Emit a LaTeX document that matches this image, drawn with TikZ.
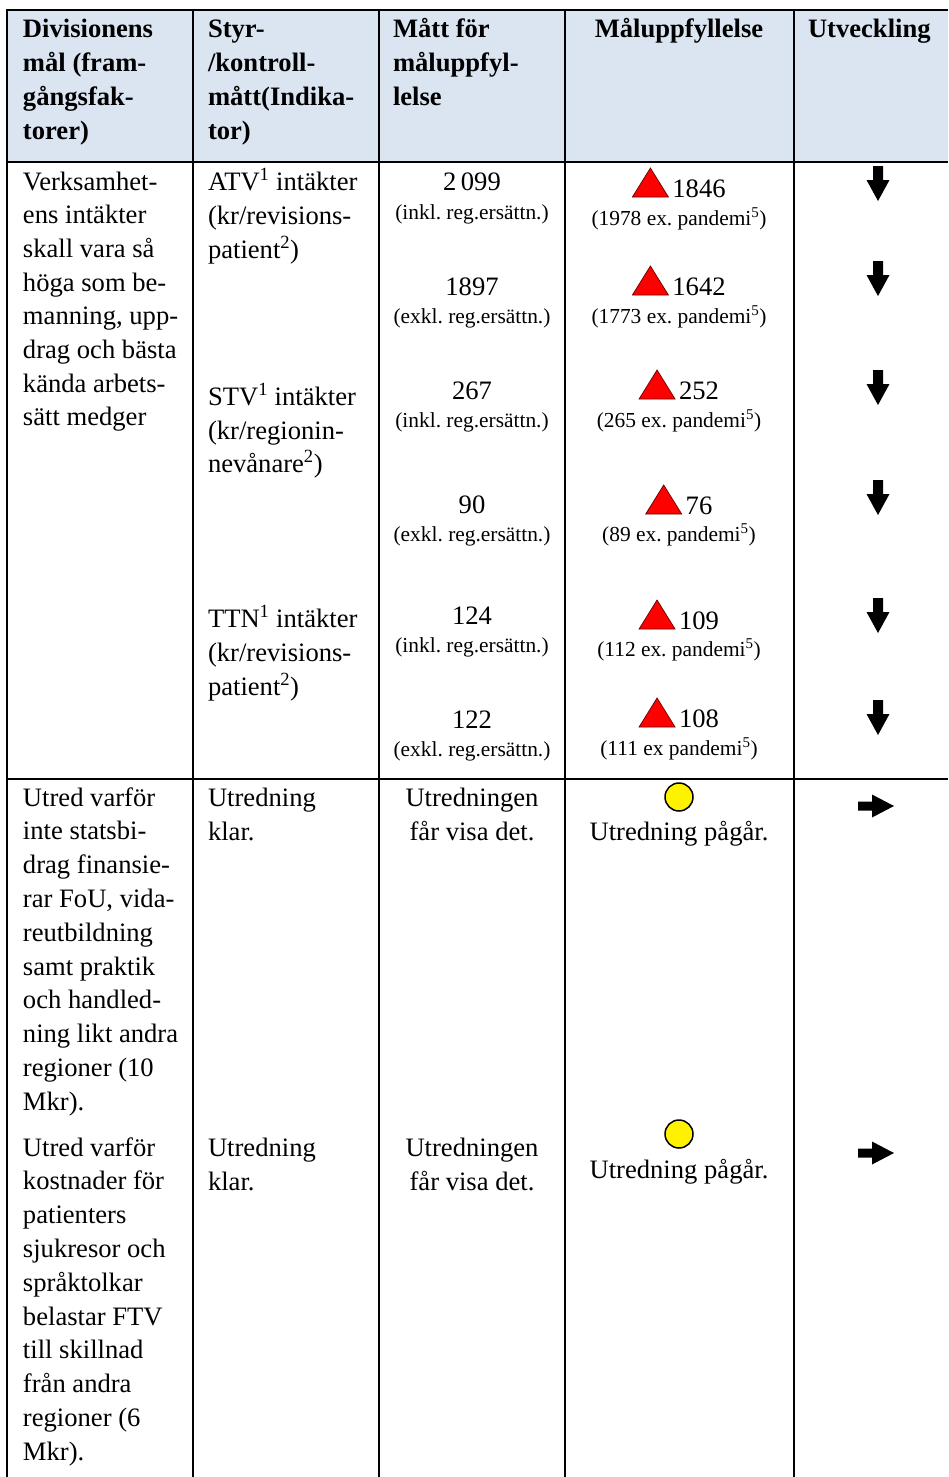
\documentclass[tikz,border=0pt]{standalone}
\usepackage{fontspec}
\setmainfont{Liberation Serif}
\usetikzlibrary{calc}
\definecolor{hdrfill}{HTML}{DBE5F1}
\newcommand\mydarr[2]{\fill (#1-5,#2) -- (#1+5,#2) -- (#1+5,#2-14) -- (#1+11.5,#2-14) -- (#1,#2-35) -- (#1-11.5,#2-14) -- (#1-5,#2-14) -- cycle;}
\newcommand\myrarr[2]{\fill (#1,#2+4.5) -- (#1+14,#2+4.5) -- (#1+14,#2+11.5) -- (#1+36,#2) -- (#1+14,#2-11.5) -- (#1+14,#2-4.5) -- (#1,#2-4.5) -- cycle;}
\newcommand\mytri[1]{\filldraw[trimark] (#1.base west) -- ++(36,0) -- ++(-18,29) -- cycle;}
\frenchspacing
\begin{document}
\begin{tikzpicture}[x=1pt,y=1pt,
  txt/.style={inner sep=0pt, outer sep=0pt, anchor=base west, font=\fontsize{26.6}{34}\selectfont},
  ctxt/.style={txt, anchor=base},
  hd/.style={txt, font=\fontsize{26.6}{34}\selectfont\bfseries},
  chd/.style={hd, anchor=base},
  sm/.style={inner sep=0pt, outer sep=0pt, anchor=base, font=\fontsize{21.4}{26}\selectfont},
  grid/.style={line width=1.8pt, black},
  trimark/.style={fill=red, draw=red!40!black, line width=0.7pt, line join=miter},
  dot/.style={circle, fill=yellow, draw=black, line width=1.5pt, minimum size=28pt, inner sep=0pt}
]
\useasboundingbox (0,0) rectangle (948,-1477);
% header background and grid
\fill[hdrfill] (7,-10) rectangle (948,-162);
\draw[grid] (6,-10) -- (948,-10);
\draw[grid] (7,-162) -- (948,-162);
\draw[grid] (7,-779) -- (948,-779);
\foreach \x in {7,193,379,565,794} \draw[grid] (\x,-10) -- (\x,-1477);

% header texts
\foreach \t [count=\i from 0] in {Divisionens, mål (fram-, gångsfak-, torer)}
  \node[hd] (ha\i) at (23,{-38-33.7*\i}) {\t};
\foreach \t [count=\i from 0] in {Styr-, /kontroll-, mått(Indika-, tor)}
  \node[hd] (hb\i) at (208,{-38-33.7*\i}) {\t};
\foreach \t [count=\i from 0] in {Mått för, måluppfyl-, lelse}
  \node[hd] (hc\i) at (393,{-38-33.7*\i}) {\t};
\node[chd] (hd0) at (679,-38) {Måluppfyllelse};
\node[hd] (he0) at (808,-38) {Utveckling};

% column 1
\foreach \t [count=\i from 0] in {Verksamhet-, ens intäkter, skall vara så, höga som be-, {manning, upp-}, drag och bästa, kända arbets-, sätt medger}
  \node[txt] (a\i) at (23,{-190-33.7*\i}) {\t};
\foreach \t [count=\i from 0] in {Utred varför, inte statsbi-, drag finansie-, {rar FoU, vida-}, reutbildning, samt praktik, och handled-, ning likt andra, regioner (10, Mkr).}
  \node[txt] (b\i) at (23,{-806-33.8*\i}) {\t};
\foreach \t [count=\i from 0] in {Utred varför, kostnader för, patienters, sjukresor och, språktolkar, belastar FTV, till skillnad, från andra, regioner (6, Mkr).}
  \node[txt] (c\i) at (23,{-1156-33.8*\i}) {\t};

% column 2
\node[txt] (atv0) at (208,-190) {ATV\textsuperscript{1} intäkter};
\node[txt] (atv1) at (208,-224) {(kr/revisions-};
\node[txt] (atv2) at (208,-258) {patient\textsuperscript{2})};
\node[txt] (stv0) at (208,-405) {STV\textsuperscript{1} intäkter};
\node[txt] (stv1) at (208,-439) {(kr/regionin-};
\node[txt] (stv2) at (208,-472) {nevånare\textsuperscript{2})};
\node[txt] (ttn0) at (208,-627) {TTN\textsuperscript{1} intäkter};
\node[txt] (ttn1) at (208,-661) {(kr/revisions-};
\node[txt] (ttn2) at (208,-695) {patient\textsuperscript{2})};
\node[txt] (ut1a) at (208,-806) {Utredning};
\node[txt] (ut1b) at (208,-840) {klar.};
\node[txt] (ut2a) at (208,-1156) {Utredning};
\node[txt] (ut2b) at (208,-1190) {klar.};

% column 3
\node[ctxt] (v1) at (472,-190) {2\,099};
\node[sm] (v1s) at (472,-219) {(inkl. reg.ersättn.)};
\node[ctxt] (v2) at (472,-295) {1897};
\node[sm] (v2s) at (472,-323) {(exkl. reg.ersättn.)};
\node[ctxt] (v3) at (472,-399) {267};
\node[sm] (v3s) at (472,-427) {(inkl. reg.ersättn.)};
\node[ctxt] (v4) at (472,-513) {90};
\node[sm] (v4s) at (472,-541) {(exkl. reg.ersättn.)};
\node[ctxt] (v5) at (472,-624) {124};
\node[sm] (v5s) at (472,-652) {(inkl. reg.ersättn.)};
\node[ctxt] (v6) at (472,-728) {122};
\node[sm] (v6s) at (472,-756) {(exkl. reg.ersättn.)};
\node[ctxt] (uv1a) at (472,-806) {Utredningen};
\node[ctxt] (uv1b) at (472,-840) {får visa det.};
\node[ctxt] (uv2a) at (472,-1156) {Utredningen};
\node[ctxt] (uv2b) at (472,-1190) {får visa det.};

% column 4
\node[ctxt] (m1) at (679,-197) {\hspace*{40pt}1846};
\node[sm] (m1s) at (679,-225) {(1978 ex. pandemi\textsuperscript{5})};
\node[ctxt] (m2) at (679,-295) {\hspace*{40pt}1642};
\node[sm] (m2s) at (679,-323) {(1773 ex. pandemi\textsuperscript{5})};
\node[ctxt] (m3) at (679,-399) {\hspace*{40pt}252};
\node[sm] (m3s) at (679,-427) {(265 ex. pandemi\textsuperscript{5})};
\node[ctxt] (m4) at (679,-514) {\hspace*{40pt}76};
\node[sm] (m4s) at (679,-541) {(89 ex. pandemi\textsuperscript{5})};
\node[ctxt] (m5) at (679,-629) {\hspace*{40pt}109};
\node[sm] (m5s) at (679,-656) {(112 ex. pandemi\textsuperscript{5})};
\node[ctxt] (m6) at (679,-727) {\hspace*{40pt}108};
\node[sm] (m6s) at (679,-755) {(111 ex pandemi\textsuperscript{5})};
\foreach \n in {m1,m2,m3,m4,m5,m6} {\mytri{\n}}
\node[dot] (d1) at (679,-797) {};
\node[ctxt] (p1) at (679,-840) {Utredning pågår.};
\node[dot] (d2) at (679,-1134) {};
\node[ctxt] (p2) at (679,-1178) {Utredning pågår.};

% column 5 arrows
\foreach \y in {-166,-261,-370,-480,-598,-700} {\mydarr{878}{\y}}
\myrarr{858}{-806}
\myrarr{858}{-1153}
\end{tikzpicture}
\end{document}
